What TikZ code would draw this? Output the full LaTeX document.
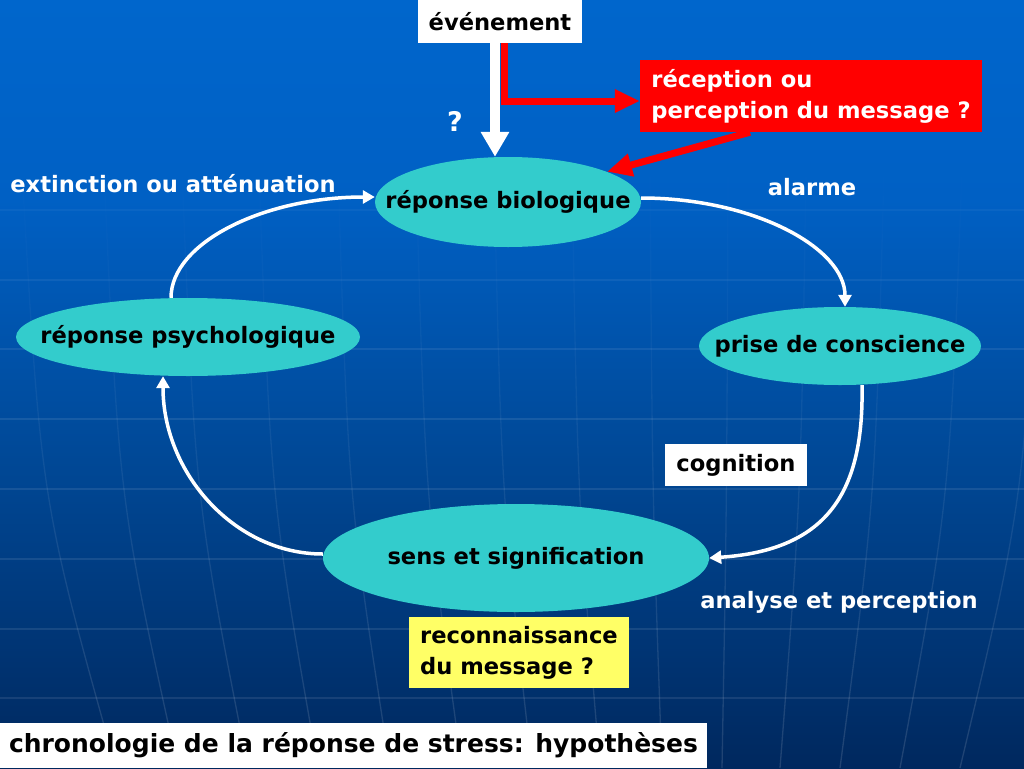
\documentclass[tikz,border=0pt]{standalone}
\usepackage{fontspec}
\setmainfont{DejaVu Sans}
\usetikzlibrary{arrows.meta,shapes.geometric,fadings}
\definecolor{bgtop}{RGB}{0,102,204}
\definecolor{bgup}{RGB}{0,96,196}
\definecolor{bgmid}{RGB}{0,72,150}
\definecolor{bgbot}{RGB}{0,40,94}
\definecolor{ellfill}{RGB}{51,204,204}
\definecolor{lyellow}{RGB}{255,255,102}
\pgfdeclareverticalshading{bgshade}{100bp}{color(0bp)=(bgbot); color(25bp)=(bgbot); color(45bp)=(bgmid); color(62bp)=(bgup); color(75bp)=(bgtop); color(100bp)=(bgtop)}
\newcommand\labfont{\fontsize{22.6}{31}\selectfont\bfseries}
\newcommand\ttlfont{\fontsize{25}{28}\selectfont\bfseries}
\newcommand\qfont{\fontsize{27}{30}\selectfont\bfseries}
\newcommand\ctr[1]{\makebox[0pt]{#1}}
\tikzset{
  ell/.style={ellipse, fill=ellfill, inner sep=0pt, font=\labfont, text=black},
  lbl/.style={font=\labfont, text=white, inner sep=0pt},
  box/.style={rectangle, inner sep=0pt, font=\labfont, text=black},
  wire/.style={draw=white, line width=3.5pt, -{Triangle[width=13pt,length=12pt]}},
  fatarrow/.style={draw=white, line width=10pt, -{Triangle[width=27pt,length=25pt]}},
  redarrow/.style={draw=red, line width=7pt, -{Triangle[width=22pt,length=25pt]}},
  gridline/.style={draw=white, opacity=0.09, line width=1.3pt},
}
\begin{document}
\begin{tikzpicture}[x=1pt,y=-1pt]
\useasboundingbox (0,0) rectangle (1024,768);
\shade[shading=bgshade] (0,0) rectangle (1024,768);
% faint globe grid
\foreach \yy/\op in {210/0.04,280/0.06,349/0.08,419/0.09,489/0.09,559/0.09,629/0.09,698/0.09}
  \draw[gridline, opacity=\op] (0,\yy) -- (1024,\yy);
\foreach \xa/\xb in {22/116,104/178,182/248,259/318,338/390,416/462,494/532,572/600,650/662,728/722,806/780,884/840,962/900,1040/960}
  \draw[gridline, opacity=0.13, path fading=north] (\xa,170) .. controls ({\xa+0.2*(\xb-\xa)},500) .. (\xb,768);
% nodes
\node[box, fill=white, minimum width=164pt, minimum height=43pt] (evt) at (500,21.5) {événement};
\node[box, fill=red, text=white, minimum width=342pt, minimum height=72pt, align=left] (rec) at (811,96) {réception ou\\perception du message ?};
\node[ell, minimum width=266pt, minimum height=90pt] (bio) at (508,202) {\ctr{réponse biologique}};
\node[ell, minimum width=282pt, minimum height=78pt] (pdc) at (840,346) {\ctr{prise de conscience}};
\node[ell, minimum width=344pt, minimum height=78pt] (psy) at (188,337) {\ctr{réponse psychologique}};
\node[ell, minimum width=386pt, minimum height=108pt] (sens) at (516,558) {\ctr{sens et signification}};
\node[box, fill=white, minimum width=142pt, minimum height=42pt] (cog) at (736,465) {cognition};
\node[box, fill=lyellow, minimum width=220pt, minimum height=71pt, align=left] (reco) at (519,652.5) {reconnaissance\\du message ?};
\node[box, fill=white, minimum width=707pt, minimum height=45pt, font=\ttlfont] (title) at (353.5,745.5) {chronologie de la réponse de stress: hypothèses};
\node[lbl, font=\qfont] (q) at (455,121) {?};
\node[lbl] (ext) at (173,184) {extinction ou atténuation};
\node[lbl] (alarm) at (812,187) {alarme};
\node[lbl] (anal) at (839,602) {analyse et perception};
% arrows
\draw[redarrow] ([xshift=4pt]evt.south) |- ([yshift=-5pt]rec.west);
\draw[fatarrow] ([xshift=-5pt]evt.south) -- ([xshift=-13pt]bio.north);
\draw[redarrow] ([xshift=-61pt]rec.south) -- (bio.17);
\draw[wire] ([yshift=4pt]bio.east) .. controls +(112,0) and +(0,-59) .. ([xshift=5pt]pdc.north);
\draw[wire] ([xshift=22pt]pdc.south) .. controls +(2,105) and +(120,-8) .. (sens.east);
\draw[wire] ([yshift=4pt]sens.west) .. controls +(-88,0) and +(0,97) .. ([xshift=-25pt]psy.south);
\draw[wire] ([xshift=-17pt]psy.north) .. controls +(0,-55) and +(-111,0) .. ([yshift=5pt]bio.west);
\end{tikzpicture}
\end{document}
